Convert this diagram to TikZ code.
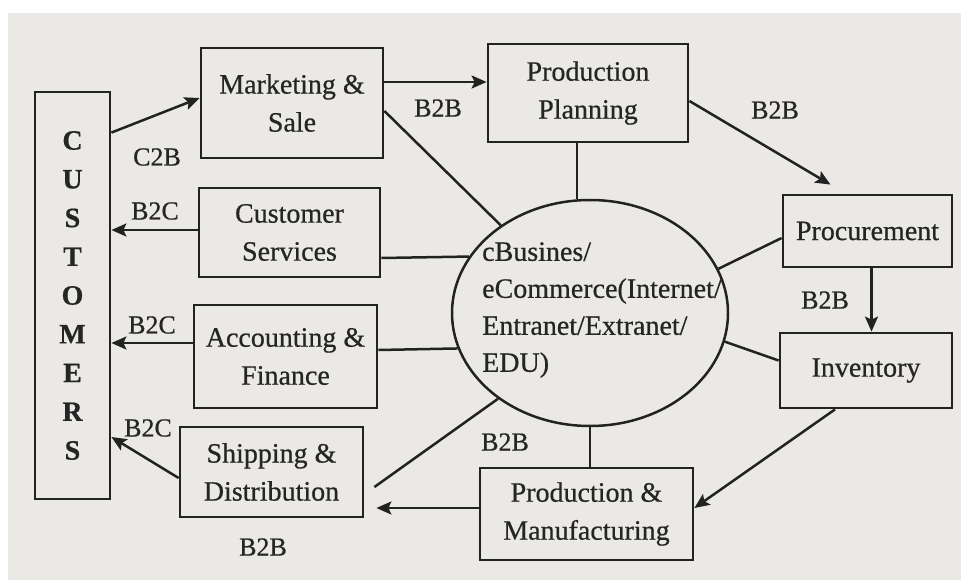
\documentclass[tikz,border=0pt]{standalone}
\usepackage{fontspec}
\setmainfont{Liberation Serif}[FakeBold=0.6]
\usetikzlibrary{arrows.meta,shapes.geometric,calc}
\definecolor{ink}{HTML}{222222}
\definecolor{inkt}{HTML}{252525}
\definecolor{bgc}{HTML}{EAE9E6}
\newcommand\bxfont{\fontsize{28}{38}\selectfont}
\newcommand\lbfont{\fontsize{26}{30}\selectfont}
\newcommand\hbfont{\fontsize{28}{37}\selectfont}
\begin{document}
\begin{tikzpicture}[x=1pt,y=-1pt,
 box/.style={draw=ink,line width=2.8pt,inner sep=0pt,align=center,font=\bxfont,text=inkt},
 conn/.style={draw=ink,line width=2.5pt},
 arr/.style={conn,-{Stealth[length=15pt,width=13pt,inset=3pt]}},
 lbl/.style={font=\lbfont,text=inkt,inner sep=0pt}]
\useasboundingbox (0,0) rectangle (961,580);
\fill[white] (0,0) rectangle (961,580);
\fill[bgc] (8,13) rectangle (961,580);

% nodes
\node[box,minimum width=75,minimum height=407,font=\fontsize{28}{38.75}\selectfont\bfseries] (cust) at (72.5,295.5) {C\\U\\S\\T\\O\\M\\E\\R\\S};
\node[box,minimum width=182,minimum height=110] (mkt) at (292,103) {Marketing \&\\Sale};
\node[box,minimum width=200,minimum height=98] (plan) at (588,93) {Production\\Planning};
\node[box,minimum width=181,minimum height=89] (csvc) at (289.5,232.5) {Customer\\Services};
\node[box,minimum width=183,minimum height=103] (acct) at (285.5,356.5) {Accounting \&\\Finance};
\node[box,minimum width=183,minimum height=90] (ship) at (271.5,472) {Shipping \&\\Distribution};
\node[box,minimum width=169,minimum height=72] (proc) at (867.5,231) {Procurement};
\node[box,minimum width=172,minimum height=75] (inv) at (866,370.5) {Inventory};
\node[box,minimum width=213,minimum height=92] (manu) at (586.5,514) {Production \&\\Manufacturing};
\node[ellipse,draw=ink,line width=2.5pt,minimum width=276,minimum height=226,inner sep=0pt] (hub) at (590,313) {};
\node[anchor=west,align=left,inner sep=0pt,font=\hbfont,text=inkt] (hubtxt) at (482,310) {cBusines/\\eCommerce(Internet/\\Entranet/Extranet/\\EDU)};

% connectors
\coordinate (c1) at ([yshift=-42]cust.north east);
\draw[arr] (c1) -- ([yshift=5]mkt.west);
\coordinate (m1) at ([yshift=21]mkt.east);
\draw[arr] (m1) -- (m1 -| plan.west);
\draw[arr] ([yshift=-8]plan.east) -- ([xshift=-37,yshift=9]proc.north);
\coordinate (p1) at ([xshift=-11]plan.south);
\draw[conn] (p1) -- (p1 |- hub.north);
\draw[conn] ([yshift=-8]mkt.east) -- (hub);
\draw[conn] ([yshift=-25.5]csvc.east) -- (hub.155.5);
\draw[conn] ([yshift=6.5]acct.east) -- (hub.195.8);
\draw[conn] (hub.223) -- ([xshift=10,yshift=-15]ship.east);
\draw[conn] (hub.south) -- (hub.south |- manu.north);
\draw[conn] (hub.19.5) -- ([yshift=-7]proc.west);
\draw[conn] (hub.348) -- ([yshift=10]inv.west);
\coordinate (q1) at ([xshift=4]proc.south);
\draw[arr] (q1) -- (q1 |- inv.north);
\draw[arr] ([xshift=-31]inv.south) -- ([yshift=6]manu.east);
\coordinate (s1) at ([yshift=6]manu.west);
\coordinate (s2) at ([xshift=12]ship.east);
\draw[arr] (s1) -- (s1 -| s2);
\coordinate (t1) at ([yshift=2.5]csvc.west);
\draw[arr] (t1) -- (t1 -| cust.east);
\coordinate (t2) at ([yshift=13.5]acct.west);
\draw[arr] (t2) -- (t2 -| cust.east);
\draw[arr] ([yshift=-6]ship.west) -- ([yshift=-141.5]cust.east);

% labels
\node[lbl] (l1) at (157,157) {C2B};
\node[lbl] (l2) at (155,211) {B2C};
\node[lbl] (l3) at (152,325) {B2C};
\node[lbl] (l4) at (148,428) {B2C};
\node[lbl] (l5) at (438,108) {B2B};
\node[lbl] (l6) at (775,110) {B2B};
\node[lbl] (l7) at (825,300) {B2B};
\node[lbl] (l8) at (505,442) {B2B};
\node[lbl] (l9) at (263,547) {B2B};
\end{tikzpicture}
\end{document}
